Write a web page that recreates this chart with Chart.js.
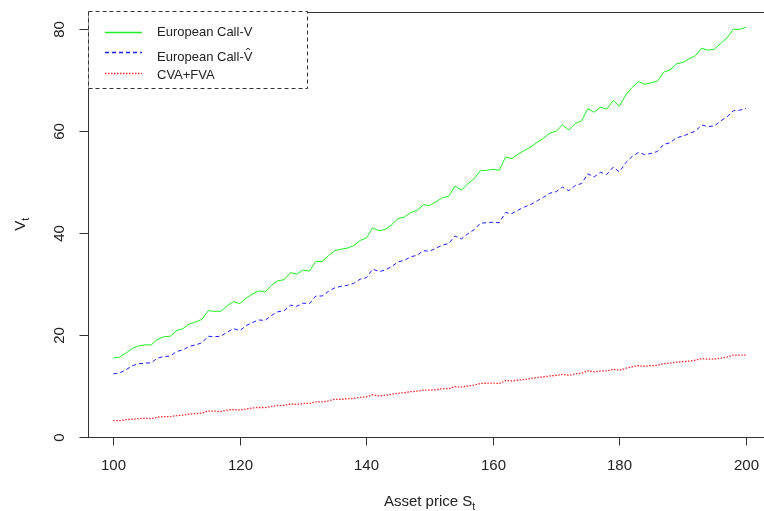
<!DOCTYPE html>
<html>
<head>
<meta charset="utf-8">
<script src="https://cdn.jsdelivr.net/npm/chart.js@4"></script>
<style>
html, body { margin: 0; padding: 0; background: #fff; overflow: hidden; }
#wrap { width: 780px; height: 511px; position: relative; }
</style>
</head>
<body>
<div id="wrap"><canvas id="chart"></canvas></div>
<script>
// asset price grid (x)
const assetPrice = [
    100, 101, 102, 103, 104, 105, 106, 107, 108, 109,
    110, 111, 112, 113, 114, 115, 116, 117, 118, 119,
    120, 121, 122, 123, 124, 125, 126, 127, 128, 129,
    130, 131, 132, 133, 134, 135, 136, 137, 138, 139,
    140, 141, 142, 143, 144, 145, 146, 147, 148, 149,
    150, 151, 152, 153, 154, 155, 156, 157, 158, 159,
    160, 161, 162, 163, 164, 165, 166, 167, 168, 169,
    170, 171, 172, 173, 174, 175, 176, 177, 178, 179,
    180, 181, 182, 183, 184, 185, 186, 187, 188, 189,
    190, 191, 192, 193, 194, 195, 196, 197, 198, 199,
    200
];

// European Call - V
const callV = [
    15.4, 15.6, 16.4, 17.3, 17.8, 18.0, 18.0, 19.1, 19.6, 19.7,
    20.8, 21.2, 22.1, 22.5, 23.0, 24.7, 24.6, 24.6, 25.7, 26.5,
    26.1, 27.2, 28.0, 28.6, 28.4, 29.7, 30.6, 30.8, 32.2, 31.9,
    32.7, 32.5, 34.4, 34.4, 35.5, 36.5, 36.8, 37.0, 37.5, 38.5,
    39.0, 41.0, 40.4, 40.7, 41.6, 42.8, 43.1, 44.0, 44.4, 45.5,
    45.4, 46.1, 46.9, 47.2, 49.2, 48.4, 49.6, 50.6, 52.2, 52.3,
    52.5, 52.3, 54.9, 54.6, 55.5, 56.2, 56.9, 57.8, 58.6, 59.6,
    60.0, 61.2, 60.2, 61.5, 62.0, 64.4, 63.7, 64.7, 64.3, 66.0,
    64.9, 67.1, 68.6, 69.7, 69.2, 69.5, 69.8, 71.6, 72.0, 73.2,
    73.5, 74.2, 74.8, 76.3, 75.9, 76.1, 77.2, 78.3, 80.0, 80.0,
    80.4
];

// European Call - V hat
const callVHat = [
    12.3, 12.5, 13.1, 13.9, 14.3, 14.4, 14.5, 15.4, 15.7, 15.8,
    16.7, 17.0, 17.7, 18.0, 18.4, 19.7, 19.6, 19.7, 20.5, 21.2,
    20.8, 21.8, 22.4, 22.9, 22.8, 23.8, 24.5, 24.7, 25.8, 25.6,
    26.2, 26.1, 27.6, 27.6, 28.5, 29.2, 29.5, 29.7, 30.1, 30.9,
    31.2, 32.9, 32.4, 32.7, 33.4, 34.3, 34.6, 35.3, 35.6, 36.5,
    36.4, 37.0, 37.6, 37.9, 39.4, 38.8, 39.8, 40.6, 41.9, 42.0,
    42.1, 42.0, 44.0, 43.8, 44.5, 45.1, 45.6, 46.3, 47.0, 47.8,
    48.1, 49.0, 48.3, 49.3, 49.7, 51.6, 51.0, 51.9, 51.5, 52.9,
    52.0, 53.8, 55.0, 55.8, 55.4, 55.6, 56.0, 57.4, 57.7, 58.7,
    59.0, 59.5, 60.0, 61.2, 60.9, 61.0, 62.0, 62.8, 64.0, 64.1,
    64.5
];

// CVA + FVA
const cvaFva = [
    3.1, 3.1, 3.3, 3.4, 3.5, 3.6, 3.5, 3.8, 3.9, 3.9,
    4.1, 4.2, 4.4, 4.5, 4.6, 5.0, 5.0, 4.9, 5.2, 5.3,
    5.2, 5.4, 5.6, 5.7, 5.7, 5.9, 6.1, 6.1, 6.4, 6.3,
    6.5, 6.5, 6.8, 6.8, 7.0, 7.3, 7.3, 7.4, 7.5, 7.7,
    7.8, 8.2, 8.0, 8.1, 8.3, 8.5, 8.6, 8.8, 8.9, 9.1,
    9.1, 9.2, 9.4, 9.4, 9.8, 9.7, 9.9, 10.1, 10.4, 10.5,
    10.5, 10.4, 11.0, 10.9, 11.1, 11.2, 11.4, 11.6, 11.7, 11.9,
    12.0, 12.2, 12.0, 12.3, 12.4, 12.9, 12.7, 12.9, 12.9, 13.2,
    13.0, 13.4, 13.7, 13.9, 13.8, 13.9, 14.0, 14.3, 14.4, 14.6,
    14.7, 14.8, 15.0, 15.3, 15.2, 15.2, 15.4, 15.6, 16.0, 16.0,
    16.0
];

const xTicks = [100, 120, 140, 160, 180, 200];
const yTicks = [0, 20, 40, 60, 80];
const legendLabels = ['European Call-V', 'European Call-V\u0302', 'CVA+FVA'];

const FONT = '"Liberation Sans", Arial, sans-serif';
const INK = '#222';

function toPoints(ys) {
    return ys.map((y, i) => ({ x: assetPrice[i], y: y }));
}

// R-style box, axes, titles and legend
const rStyle = {
    id: 'rStyle',
    afterDraw(chart) {
        const ctx = chart.ctx;
        const a = chart.chartArea;
        const sx = chart.scales.x;
        const sy = chart.scales.y;
        const L = Math.round(a.left) + 0.5;
        const T = Math.round(a.top) + 0.5;
        const B = Math.round(a.bottom) + 0.5;
        const R = Math.round(a.right) + 0.5;

        ctx.save();
        ctx.strokeStyle = '#333';
        ctx.lineWidth = 1;
        ctx.strokeRect(L, T, R - L, B - T);

        // x axis
        ctx.fillStyle = INK;
        ctx.font = '15px ' + FONT;
        ctx.textAlign = 'center';
        ctx.textBaseline = 'middle';
        xTicks.forEach(v => {
            const px = Math.round(sx.getPixelForValue(v)) + 0.5;
            ctx.beginPath();
            ctx.moveTo(px, B);
            ctx.lineTo(px, B + 8);
            ctx.stroke();
            ctx.fillText(String(v), px, 466);
        });

        // y axis, labels parallel to the axis
        yTicks.forEach(v => {
            const py = Math.round(sy.getPixelForValue(v)) + 0.5;
            ctx.beginPath();
            ctx.moveTo(L - 9, py);
            ctx.lineTo(L, py);
            ctx.stroke();
            ctx.save();
            ctx.translate(60, py);
            ctx.rotate(-Math.PI / 2);
            ctx.fillText(String(v), 0, 0);
            ctx.restore();
        });

        // x title: Asset price S_t
        ctx.textAlign = 'left';
        ctx.textBaseline = 'alphabetic';
        ctx.font = '15px ' + FONT;
        const main = 'Asset price S';
        const w1 = ctx.measureText(main).width;
        ctx.font = '11px ' + FONT;
        const w2 = ctx.measureText('t').width;
        const cx = (a.left + a.right) / 2;
        const x0 = cx - (w1 + w2) / 2;
        ctx.font = '15px ' + FONT;
        ctx.fillText(main, x0, 506);
        ctx.font = '11px ' + FONT;
        ctx.fillText('t', x0 + w1, 510);

        // y title: V_t
        ctx.save();
        ctx.translate(25, (a.top + a.bottom) / 2);
        ctx.rotate(-Math.PI / 2);
        ctx.font = '15px ' + FONT;
        const v1 = ctx.measureText('V').width;
        ctx.font = '11px ' + FONT;
        const v2 = ctx.measureText('t').width;
        const y0 = -(v1 + v2) / 2;
        ctx.font = '15px ' + FONT;
        ctx.fillText('V', y0, 0);
        ctx.font = '11px ' + FONT;
        ctx.fillText('t', y0 + v1, 4);
        ctx.restore();

        // legend
        const lx = 88.5, ly = 11.5, lw = 219, lh = 77;
        ctx.fillStyle = '#fff';
        ctx.fillRect(lx, ly, lw, lh);
        ctx.setLineDash([4, 3]);
        ctx.strokeStyle = '#333';
        ctx.strokeRect(lx, ly, lw, lh);
        const lineY = [32.5, 52.5, 73.5];
        const textY = [32, 57, 75];
        ctx.font = '13px ' + FONT;
        ctx.textBaseline = 'middle';
        chart.data.datasets.forEach((ds, i) => {
            ctx.strokeStyle = ds.borderColor;
            ctx.lineWidth = 1.3;
            ctx.setLineDash(ds.borderDash || []);
            ctx.beginPath();
            ctx.moveTo(105, lineY[i]);
            ctx.lineTo(142, lineY[i]);
            ctx.stroke();
            ctx.fillStyle = INK;
            ctx.fillText(legendLabels[i], 157, textY[i]);
        });
        ctx.restore();
    }
};

new Chart(document.getElementById('chart'), {
    type: 'line',
    data: {
        datasets: [
            {
                label: legendLabels[0],
                data: toPoints(callV),
                borderColor: '#22ee22',
                borderWidth: 1,
                pointRadius: 0,
                tension: 0
            },
            {
                label: legendLabels[1],
                data: toPoints(callVHat),
                borderColor: '#1a1aff',
                borderWidth: 1,
                borderDash: [4, 3],
                pointRadius: 0,
                tension: 0
            },
            {
                label: legendLabels[2],
                data: toPoints(cvaFva),
                borderColor: '#ff2a2a',
                borderWidth: 1.3,
                borderDash: [1.5, 1.5],
                pointRadius: 0,
                tension: 0
            }
        ]
    },
    options: {
        responsive: true,
        maintainAspectRatio: false,
        devicePixelRatio: 1,
        animation: false,
        layout: {
            padding: { left: 88, top: 12, right: 8.7, bottom: 74.5 }
        },
        plugins: {
            legend: { display: false },
            tooltip: { enabled: false }
        },
        scales: {
            x: { type: 'linear', min: 96, max: 204, display: false },
            y: { type: 'linear', min: 0, max: 83.4, display: false }
        }
    },
    plugins: [rStyle]
});
</script>
</body>
</html>
